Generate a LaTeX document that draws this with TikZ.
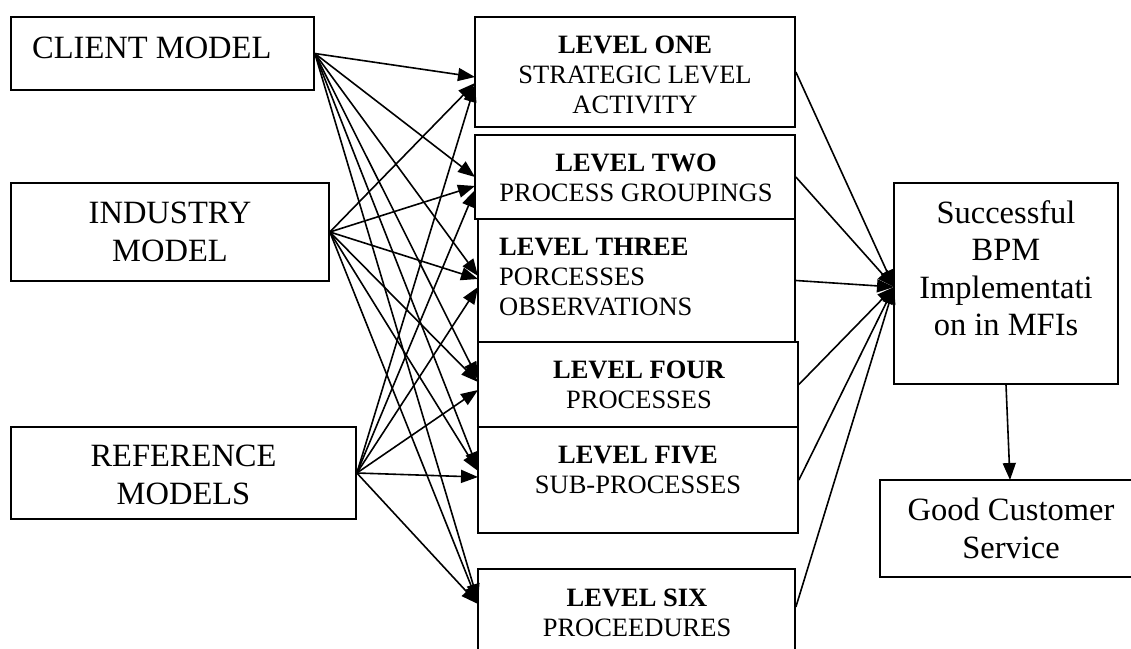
\documentclass[tikz,border=0pt]{standalone}
\usepackage{fontspec}
\setmainfont{Liberation Serif}
\usetikzlibrary{arrows.meta,fit}
\begin{document}
\begin{tikzpicture}[x=1pt,y=-1pt,
  box/.style={draw, line width=1.7pt, fill=white, inner sep=0pt},
  big/.style={font=\fontsize{32.5}{37.5}\selectfont, align=center, inner sep=0pt, anchor=north},
  mid/.style={font=\fontsize{26.5}{30}\selectfont, align=center, inner sep=0pt, anchor=north},
  arr/.style={line width=1.6pt, -{Triangle[length=17pt,width=13pt]}}]
\useasboundingbox (0,0) rectangle (1131,648);
% left boxes
\node[box, fit={(11,17) (314,90)}] (client) {};
\node[box, fit={(11,183) (329,281)}] (industry) {};
\node[box, fit={(11,427) (356,519)}] (reference) {};
% middle boxes
\node[box, fit={(475,17) (795,127)}] (l1) {};
\node[box, fit={(475,135) (795,219)}] (l2) {};
\node[box, fit={(478,219) (795,342)}] (l3) {};
\node[box, fit={(478,342) (798,427)}] (l4) {};
\node[box, fit={(478,427) (798,533)}] (l5) {};
\node[box, fit={(478,569) (795,665)}] (l6) {};
% right boxes
\node[box, fit={(894,183) (1118,384)}] (succ) {};
\node[box, fit={(880,480) (1140,577)}] (good) {};
% texts
\node[big, anchor=north west] (tclient) at (32,37) {CLIENT MODEL};
\node[big] (tindustry) at (170,202) {INDUSTRY\\MODEL};
\node[big] (treference) at (183.5,445) {REFERENCE\\MODELS};
\node[mid] (tl1) at (635,35.5) {\textbf{LEVEL ONE}\\STRATEGIC LEVEL\\ACTIVITY};
\node[mid] (tl2) at (636,153.5) {\textbf{LEVEL TWO}\\PROCESS GROUPINGS};
\node[mid, anchor=north west, align=left] (tl3) at (499,237.5) {\textbf{LEVEL THREE}\\PORCESSES\\OBSERVATIONS};
\node[mid] (tl4) at (639,360.5) {\textbf{LEVEL FOUR}\\PROCESSES};
\node[mid] (tl5) at (638,445.5) {\textbf{LEVEL FIVE}\\SUB-PROCESSES};
\node[mid] (tl6) at (637,588.5) {\textbf{LEVEL SIX}\\PROCEEDURES};
\node[big] (tsucc) at (1006,200) {Successful\\BPM\\Implementati\\on in MFIs};
\node[big] (tgood) at (1011,498) {Good Customer\\Service};
% target coordinates on the level boxes
\coordinate (a1) at (475,77);  \coordinate (b1) at (475,83);  \coordinate (c1) at (475,85);
\coordinate (a2) at (475,177); \coordinate (b2) at (475,186); \coordinate (c2) at (475,190);
\coordinate (a3) at (478,276); \coordinate (b3) at (478,279); \coordinate (c3) at (478,287);
\coordinate (a4) at (478,379); \coordinate (b4) at (478,382); \coordinate (c4) at (478,390);
\coordinate (a5) at (478,469); \coordinate (b5) at (478,471); \coordinate (c5) at (478,477);
\coordinate (a6) at (478,601); \coordinate (b6) at (478,603); \coordinate (c6) at (478,604);
\coordinate (conv) at (894,287);
\coordinate (gtop) at (1010,480);
% arrows from sources
\foreach \i in {1,...,6}{
  \draw[arr] (client.east) -- (a\i);
  \draw[arr] (industry.east) -- (b\i);
  \draw[arr] (reference.east) -- (c\i);
}
% arrows into success box
\draw[arr] (l1.east) -- (conv);
\draw[arr] (l2.east) -- (conv);
\draw[arr] (l3.east) -- (conv);
\draw[arr] (l4.east) -- (conv);
\draw[arr] (l5.east) -- (conv);
\draw[arr] (l6.east |- 0,607) -- (conv);
\draw[arr] (succ.south) -- (gtop);
\end{tikzpicture}
\end{document}
